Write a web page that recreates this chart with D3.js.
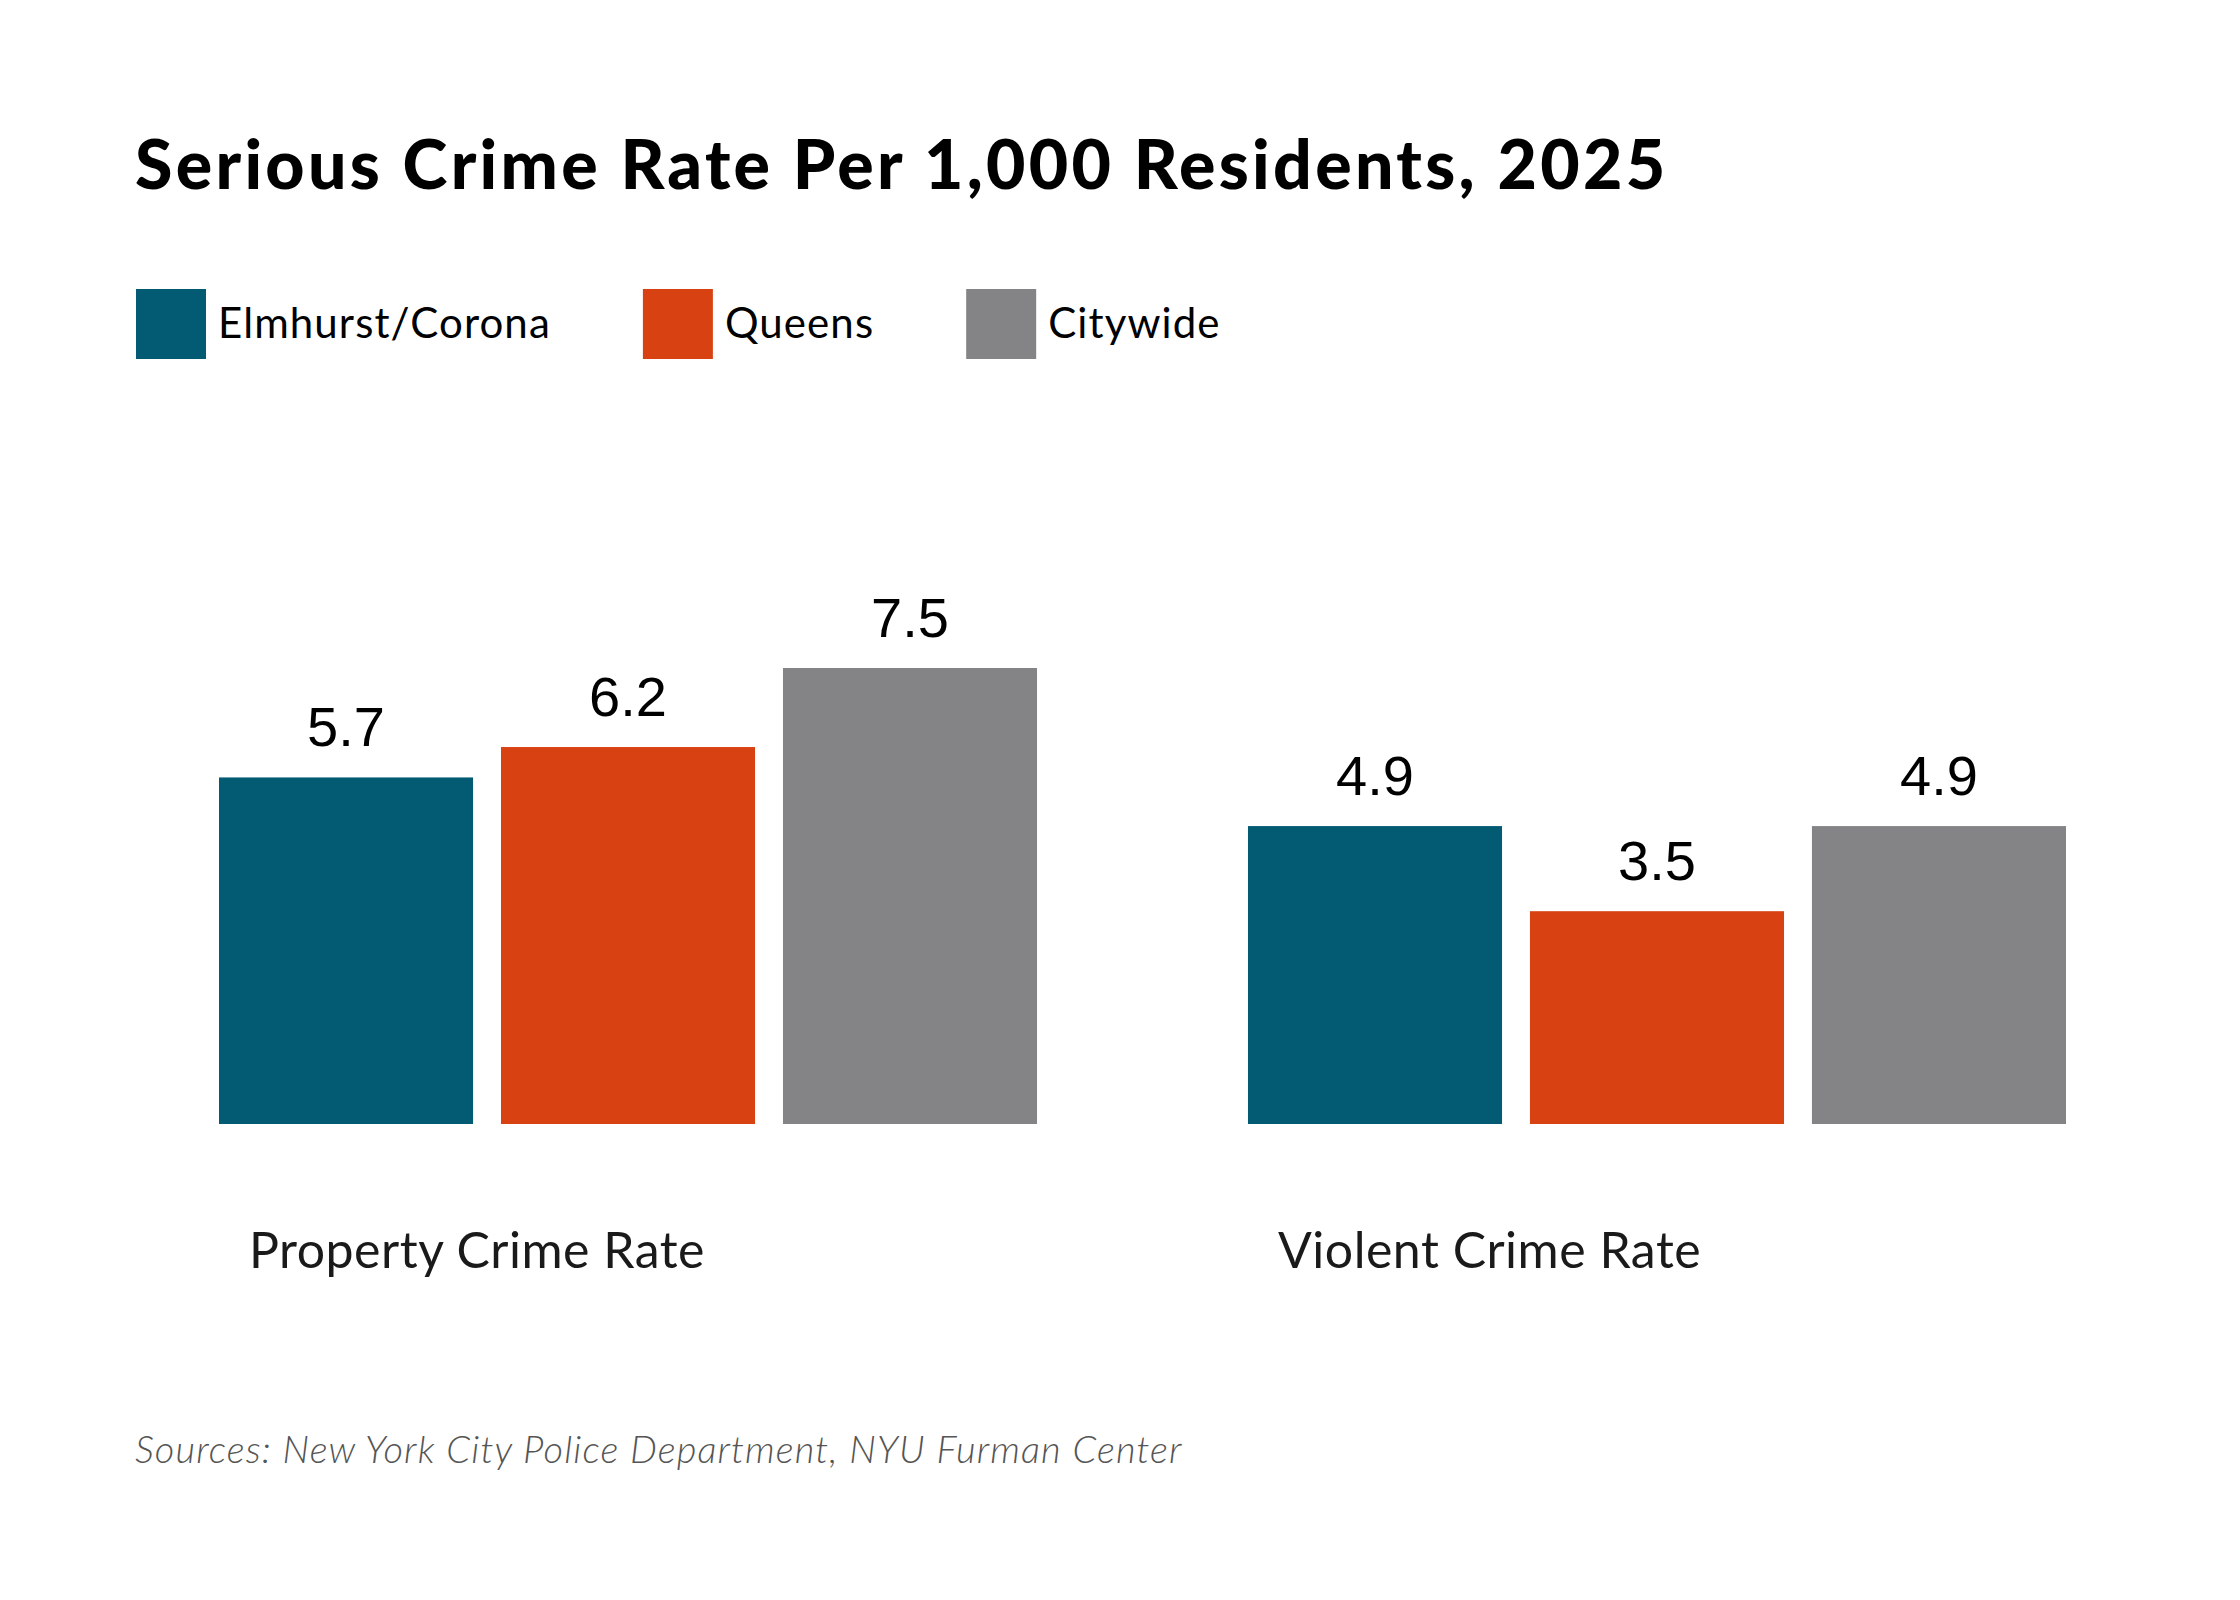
<!DOCTYPE html>
<html>
<head>
<meta charset="utf-8">
<script src="https://cdn.jsdelivr.net/npm/d3@7"></script>
<style>
  html, body { margin: 0; padding: 0; background: #fff; }
  svg { display: block; }
</style>
</head>
<body>
<div id="chart"></div>
<script>
const categories = ["Property Crime Rate", "Violent Crime Rate"]
const seriesNames = ["Elmhurst/Corona", "Queens", "Citywide"]
const elmhurstValues = [5.7, 4.9]
const queensValues = [6.2, 3.5]
const citywideValues = [7.5, 4.9]
const seriesColors = ["#025a73", "#d84112", "#848486"]

const titleText = "Serious Crime Rate Per 1,000 Residents, 2025"
const sourceText = "Sources: New York City Police Department, NYU Furman Center"

const width = 2240, height = 1600
const uiFont = "Lato, 'Noto Sans', sans-serif"

// rows of {category, bars: [{series, value}]}
const valuesBySeries = [elmhurstValues, queensValues, citywideValues]
const rows = categories.map((c, ci) => ({
    category: c,
    bars: seriesNames.map((s, si) => ({series: s, value: valuesBySeries[si][ci]}))
}))

const svg = d3.select("#chart").append("svg")
    .attr("width", width)
    .attr("height", height)

svg.append("rect")
    .attr("width", width)
    .attr("height", height)
    .attr("fill", "#fff")

// title
svg.append("text")
    .attr("x", 135)
    .attr("y", 189)
    .attr("font-family", uiFont)
    .attr("font-weight", 900)
    .attr("font-size", 68)
    .attr("letter-spacing", 3.3)
    .attr("fill", "#000")
    .text(titleText)

// legend, items laid out one after another
const color = d3.scaleOrdinal().domain(seriesNames).range(seriesColors)
let legendX = 136
seriesNames.forEach(name => {
    const g = svg.append("g").attr("transform", `translate(${legendX},289)`)
    g.append("rect")
        .attr("width", 70)
        .attr("height", 70)
        .attr("fill", color(name))
    const label = g.append("text")
        .attr("x", 82)
        .attr("y", 49)
        .attr("font-family", uiFont)
        .attr("font-size", 42)
        .attr("letter-spacing", 1.1)
        .attr("fill", "#000")
        .text(name)
    legendX += 82 + label.node().getComputedTextLength() + 92
})

// scales
const x0 = d3.scaleBand()
    .domain(categories)
    .range([219, 2066])
    .paddingInner(0.205)
    .paddingOuter(0)

const x1 = d3.scaleBand()
    .domain(seriesNames)
    .range([0, x0.bandwidth()])
    .paddingInner(0.099)
    .paddingOuter(0)

const y = d3.scaleLinear()
    .domain([0, 7.5])
    .range([1124, 668])

const groups = svg.selectAll(".group")
    .data(rows)
    .join("g")
    .attr("class", "group")
    .attr("transform", d => `translate(${x0(d.category)},0)`)

groups.selectAll("rect")
    .data(d => d.bars)
    .join("rect")
    .attr("x", d => x1(d.series))
    .attr("y", d => y(d.value))
    .attr("width", x1.bandwidth())
    .attr("height", d => y(0) - y(d.value))
    .attr("fill", d => color(d.series))

groups.selectAll(".value-label")
    .data(d => d.bars)
    .join("text")
    .attr("class", "value-label")
    .attr("x", d => x1(d.series) + x1.bandwidth() / 2)
    .attr("y", d => y(d.value) - 31)
    .attr("text-anchor", "middle")
    .attr("font-family", "'Liberation Sans', Arial, sans-serif")
    .attr("font-size", 56)
    .attr("fill", "#000")
    .text(d => d3.format(".1f")(d.value))

groups.append("text")
    .attr("x", 30)
    .attr("y", 1268)
    .attr("font-family", uiFont)
    .attr("font-size", 50)
    .attr("letter-spacing", 0.5)
    .attr("fill", "#1a1a1a")
    .text(d => d.category)

// source note
svg.append("text")
    .attr("x", 135)
    .attr("y", 1463)
    .attr("font-family", uiFont)
    .attr("font-style", "italic")
    .attr("font-weight", 300)
    .attr("font-size", 38)
    .attr("letter-spacing", 1.1)
    .attr("fill", "#555")
    .text(sourceText)
</script>
</body>
</html>
